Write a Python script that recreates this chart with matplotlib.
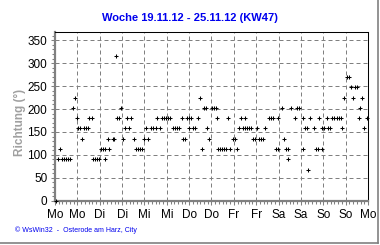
"""
Weekly wind direction chart (WsWin32 style), KW47 2012.
"""

import matplotlib
matplotlib.use('Agg')
import matplotlib.pyplot as plt
from matplotlib.lines import Line2D
from matplotlib.ticker import MultipleLocator, FixedLocator, FixedFormatter

plt.rcParams['font.family'] = ['Liberation Sans', 'DejaVu Sans']

# ---------------------------------------------------------------------------
# Data: hours since Monday 00:00, grouped by compass direction (degrees)
# ---------------------------------------------------------------------------

hours_000 = [0.5]
hours_067 = [136.0]
hours_090 = [1.8, 3.9, 5.0, 6.1, 7.1, 8.2, 20.6, 21.6, 22.7, 23.8, 27.0, 125.2]
hours_112 = [2.9, 24.7, 25.8, 26.8, 29.2, 43.6, 44.7, 45.8, 46.9, 79.1, 87.7,
             88.8, 89.8, 90.9, 92.0, 94.1, 97.9, 118.8, 119.9, 124.2, 125.2,
             133.0, 140.3, 141.3, 143.2]
hours_135 = [14.7, 28.6, 31.0, 31.8, 36.7, 42.2, 47.9, 50.1, 68.9, 69.9, 82.8,
             95.4, 96.5, 106.1, 107.2, 109.3, 110.4, 111.5, 123.1]
hours_157 = [12.5, 13.6, 15.7, 16.8, 17.9, 37.6, 39.7, 48.8, 51.5, 52.8, 54.1,
             56.4, 63.2, 64.3, 65.3, 66.4, 72.1, 74.2, 75.3, 81.8, 98.8, 101.1,
             102.2, 103.3, 104.3, 105.4, 108.3, 112.8, 134.2, 135.3, 138.8,
             143.5, 144.6, 146.7, 147.8, 154.2, 165.9]
hours_180 = [12.0, 18.5, 19.7, 33.5, 34.5, 38.6, 41.0, 54.9, 57.5, 58.6, 59.6,
             60.7, 61.7, 68.0, 71.0, 72.1, 73.2, 76.9, 87.1, 93.0, 99.8, 102.2,
             114.9, 115.9, 117.0, 119.9, 129.0, 133.3, 137.0, 141.9, 146.2,
             148.7, 150.0, 151.2, 152.5, 153.7, 163.2, 167.5]
hours_202 = [9.8, 35.6, 80.2, 80.9, 84.1, 85.2, 86.3, 122.0, 126.7, 129.7,
             130.8, 163.9]
hours_225 = [10.9, 78.0, 155.3, 160.0, 164.8]
hours_247 = [158.9, 161.0, 162.1]
hours_270 = [156.7, 157.8]
hours_315 = [32.7]

series = [
    (0.0, hours_000), (67.5, hours_067), (90.0, hours_090),
    (112.5, hours_112), (135.0, hours_135), (157.5, hours_157),
    (180.0, hours_180), (202.5, hours_202), (225.0, hours_225),
    (247.5, hours_247), (270.0, hours_270), (315.0, hours_315),
]

day_labels = ['Mo', 'Mo', 'Di', 'Di', 'Mi', 'Mi', 'Do', 'Do',
              'Fr', 'Fr', 'Sa', 'Sa', 'So', 'So', 'Mo']

GRAY = '#808080'
BLUE = '#0000ee'

# ---------------------------------------------------------------------------
# Figure
# ---------------------------------------------------------------------------

W, H = 380, 245
fig = plt.figure(figsize=(W / 100, H / 100), dpi=100)
ax = fig.add_axes([55 / W, 1 - 200.7 / H, 313 / W, 168.7 / H])

times = [h for _, hrs in series for h in hrs]
dirs = [d for d, hrs in series for _ in hrs]
ax.plot(times, dirs, linestyle='none', marker='+', markersize=2.6,
        markeredgewidth=0.75, color='black', zorder=3, clip_on=False)

ax.set_xlim(0, 168)
ax.set_ylim(0, 368)

ax.xaxis.set_major_locator(FixedLocator(range(0, 169, 12)))
ax.xaxis.set_major_formatter(FixedFormatter(day_labels))
ax.xaxis.set_minor_locator(MultipleLocator(2))
ax.yaxis.set_major_locator(MultipleLocator(50))
ax.yaxis.set_minor_locator(MultipleLocator(10))

ax.tick_params(which='major', direction='out', length=3, width=0.75,
               color=GRAY, labelsize=8.5, labelcolor='black')
ax.tick_params(axis='x', which='major', pad=3)
ax.tick_params(axis='y', which='major', pad=2.5)
ax.tick_params(which='minor', direction='out', length=2, width=0.75, color=GRAY)

ax.grid(True, which='major', color=GRAY, linewidth=0.72,
        linestyle=(0, (4, 3)))
ax.set_axisbelow(True)

ax.spines['left'].set_color(GRAY)
ax.spines['left'].set_linewidth(1.6)
ax.spines['bottom'].set_color(GRAY)
ax.spines['bottom'].set_linewidth(1.6)
ax.spines['top'].set_color('black')
ax.spines['top'].set_linewidth(0.75)
ax.spines['right'].set_color('black')
ax.spines['right'].set_linewidth(0.75)

fig.text(190 / W, 1 - 18 / H, 'Woche 19.11.12 - 25.11.12 (KW47)',
         color=BLUE, fontsize=8, fontweight='bold', ha='center', va='center')
fig.text(20 / W, 1 - 122 / H, 'Richtung (°)', color='#a0a0a0',
         fontsize=8.5, fontweight='bold', rotation=90, ha='center', va='center')
fig.text(15 / W, 1 - 230 / H, '© WsWin32  -  Osterode am Harz, City',
         color=BLUE, fontsize=5, ha='left', va='center')

# panel border on the right and bottom
fig.add_artist(Line2D([378 / W, 378 / W], [1 - 243 / H, 1], transform=fig.transFigure,
                      color=GRAY, linewidth=1.2))
fig.add_artist(Line2D([0, 378 / W], [1 - 243 / H, 1 - 243 / H], transform=fig.transFigure,
                      color=GRAY, linewidth=1.2))

fig.savefig('out.png', dpi=100)
plt.close(fig)
